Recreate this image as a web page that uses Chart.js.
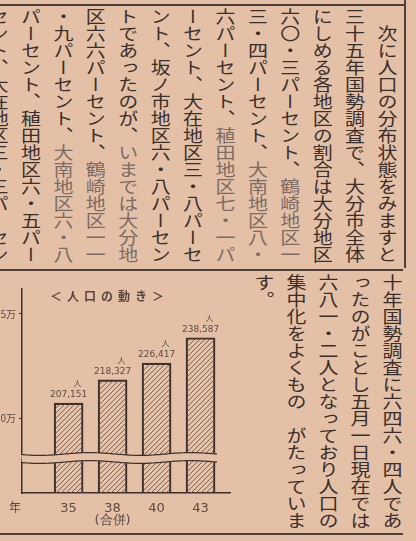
<!DOCTYPE html>
<html lang="ja">
<head>
<meta charset="utf-8">
<script src="https://cdn.jsdelivr.net/npm/chart.js@4.4.1/dist/chart.umd.min.js"></script>
<style>
  html, body { margin: 0; padding: 0; }
  body {
    width: 416px; height: 541px; overflow: hidden; position: relative;
    background: #e4c1a6;
    font-family: "Noto Sans CJK JP", sans-serif;
    color: #3b2f2c;
  }
  .rule { position: absolute; background: #4e3f3a; }
  .cols {
    position: absolute;
    writing-mode: vertical-rl;
    white-space: nowrap;
    font-size: 20px;
    line-height: 32.4px;
    transform: scaleY(0.85);
    transform-origin: top right;
  }
  .cols .fade { color: #7d6b66; }
  #upper { right: 13px; top: 8px; }
  #lower { right: 8px; top: 274px; line-height: 32px; }
  #chartbox { position: absolute; left: -6px; top: 280px; width: 240px; height: 253px; }
  .ttl {
    position: absolute; left: 50px; top: 287px;
    font-size: 12px; letter-spacing: 5px; color: #574641; font-weight: bold;
  }
  .nen { position: absolute; left: 9px; top: 498px; font-size: 12px; color: #574641; }
</style>
</head>
<body>

<div class="rule" style="left:0;top:4px;width:406px;height:1.5px"></div>
<div class="rule" style="left:404px;top:0;width:1.5px;height:268px"></div>
<div class="rule" style="left:0;top:269px;width:403px;height:1.5px"></div>
<div class="rule" style="left:0;top:533px;width:403px;height:1.5px"></div>

<div class="cols" id="upper">　次に人口の分布状態をみますと<br>三十五年国勢調査で、大分市全体<br>にしめる各地区の割合は大分地区<br>六〇・三パーセント、<span class="fade">鶴崎地区一</span><br>三・四パーセント、<span class="fade">大南地区八・</span><br>六パーセント、<span class="fade">稙田地区七・一パ</span><br>ーセント、大在地区三・八パーセ<br>ント、坂ノ市地区六・八パーセン<br>トであったのが、<span class="fade">いまでは大分地</span><br>区六六パーセント、<span class="fade">鶴崎地区一一</span><br>・九パーセント、<span class="fade">大南地区六・八</span><br>パーセント、稙田地区六・五パー<br>セント、大在地区三・三パーセン</div>

<div class="cols" id="lower">十年国勢調査に六四六・四人であ<br>ったのがことし五月一日現在では<br>六八一・二人となっており人口の<br>集中化をよくもの　がたっていま<br>す。</div>

<div id="chartbox"><canvas id="c" width="240" height="253"></canvas></div>
<div class="ttl">＜人口の動き＞</div>
<div class="nen">年</div>

<script>
// 人口の動き — years (昭和) and population
const years = ["35", "38", "40", "43"];
const yearNotes = ["", "(合併)", "", ""];
const population = [207151, 218327, 226417, 238587];
const yTicks = [200000, 250000];
const yTickLabels = ["20万", "25万"];

const PAPER = "#e4c1a6";
const INK = "#3d302c";
const SOFT = "#5b4a45";

const canvas = document.getElementById("c");
const ctx0 = canvas.getContext("2d");

function hatchPattern() {
  const c = document.createElement("canvas");
  c.width = 5; c.height = 5;
  const g = c.getContext("2d");
  g.strokeStyle = "#6e5a55";
  g.lineWidth = 0.9;
  g.beginPath();
  g.moveTo(0, 5); g.lineTo(5, 0);
  g.moveTo(-1, 1); g.lineTo(1, -1);
  g.moveTo(4, 6); g.lineTo(6, 4);
  g.stroke();
  return ctx0.createPattern(c, "repeat");
}

// wavy break across the lower part of the bars
const axisBreak = {
  id: "axisBreak",
  afterDatasetsDraw(chart) {
    const { ctx, chartArea } = chart;
    const bars = chart.getDatasetMeta(0).data;
    const last = bars[bars.length - 1];
    const x0 = chartArea.left - 1;
    const x1 = last.x + last.width / 2 + 3;
    const yTop = chartArea.bottom - 39;
    const yBot = chartArea.bottom - 31;
    const wave = x => 1.4 * Math.sin((x - x0) / 16 + 0.4);
    ctx.save();
    ctx.beginPath();
    ctx.moveTo(x0, yTop + wave(x0));
    for (let x = x0; x <= x1; x += 2) ctx.lineTo(x, yTop + wave(x));
    for (let x = x1; x >= x0; x -= 2) ctx.lineTo(x, yBot + wave(x));
    ctx.closePath();
    ctx.fillStyle = PAPER;
    ctx.fill();
    ctx.strokeStyle = INK;
    ctx.lineWidth = 1.2;
    [yTop, yBot].forEach(y0 => {
      ctx.beginPath();
      for (let x = x0; x <= x1; x += 2) {
        if (x === x0) ctx.moveTo(x, y0 + wave(x));
        else ctx.lineTo(x, y0 + wave(x));
      }
      ctx.stroke();
    });
    ctx.restore();
  }
};

const valueLabels = {
  id: "valueLabels",
  afterDatasetsDraw(chart) {
    const ctx = chart.ctx;
    ctx.save();
    ctx.fillStyle = SOFT;
    ctx.textAlign = "center";
    chart.getDatasetMeta(0).data.forEach((bar, i) => {
      ctx.font = '9px "DejaVu Sans"';
      ctx.fillText(population[i].toLocaleString("en-US"), bar.x, bar.y - 6);
      ctx.font = '8px "Noto Sans CJK JP"';
      ctx.fillText("人", bar.x + 9, bar.y - 17);
    });
    ctx.restore();
  }
};

new Chart(canvas, {
  type: "bar",
  data: {
    datasets: [{
      data: population.map((v, i) => ({ x: i, y: v })),
      backgroundColor: hatchPattern(),
      borderColor: INK,
      borderWidth: 1.5,
      barThickness: 29,
    }],
  },
  options: {
    responsive: false,
    animation: false,
    layout: { padding: { top: 8, right: 4 } },
    plugins: { legend: { display: false }, tooltip: { enabled: false } },
    scales: {
      x: {
        type: "linear",
        offset: false,
        min: -1.06,
        max: 3.67,
        afterBuildTicks: s => { s.ticks = years.map((_, i) => ({ value: i })); },
        afterFit: s => { s.height = 40; },
        ticks: {
          color: SOFT,
          font: { family: "DejaVu Sans", size: 13, lineHeight: 0.95 },
          padding: 1,
          callback: v => yearNotes[v] ? [years[v], yearNotes[v]] : years[v],
        },
        grid: { display: false },
        border: { color: INK, width: 1.5 },
      },
      y: {
        min: 164000,
        max: 262000,
        afterBuildTicks: s => { s.ticks = yTicks.map(v => ({ value: v })); },
        afterFit: s => { s.width = 28; },
        ticks: {
          color: SOFT,
          font: { family: "Noto Sans CJK JP", size: 10 },
          padding: 3,
          callback: v => yTickLabels[yTicks.indexOf(v)],
        },
        grid: { drawOnChartArea: false, tickLength: 3, color: INK },
        border: { color: INK, width: 1.5 },
      },
    },
  },
  plugins: [axisBreak, valueLabels],
});
</script>
</body>
</html>
